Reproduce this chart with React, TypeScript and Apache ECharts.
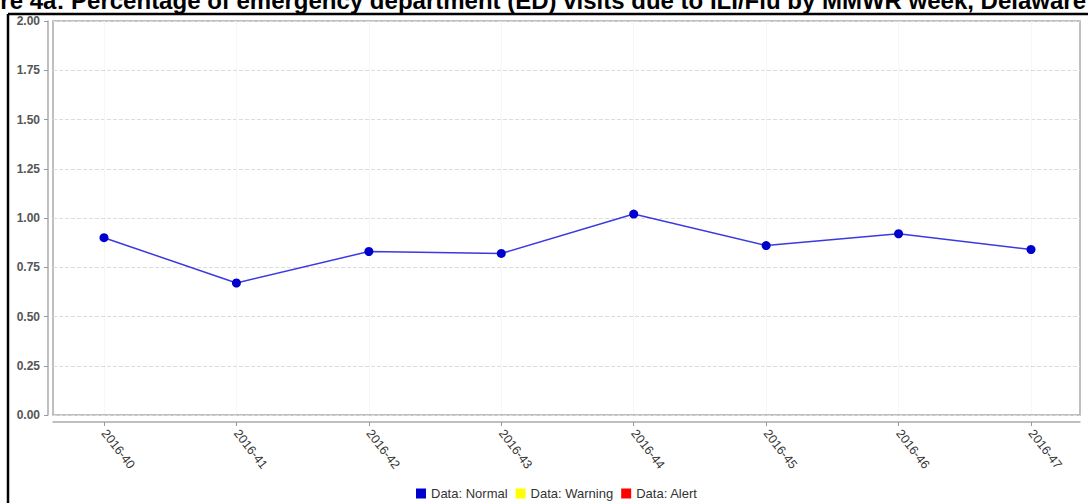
import React, { useEffect, useRef } from "react";
import * as echarts from "echarts";

const TITLE = "Figure 4a: Percentage of emergency department (ED) visits due to ILI/Flu by MMWR week, Delaware";
const weeks = ["2016-40", "2016-41", "2016-42", "2016-43", "2016-44", "2016-45", "2016-46", "2016-47"];
const normalValues = [0.9, 0.67, 0.83, 0.82, 1.02, 0.86, 0.92, 0.84];
const legendNames = ["Data: Normal", "Data: Warning", "Data: Alert"];
const legendColors = ["#0000CC", "#FFFF00", "#FF0000"];

export default function App() {
  const ref = useRef<HTMLDivElement>(null);
  useEffect(() => {
    if (!ref.current) return;
    const chart = echarts.init(ref.current, undefined, { renderer: "svg" });
    const font = "Liberation Sans, Arial, sans-serif";
    chart.setOption({
      animation: false,
      backgroundColor: "#ffffff",
      textStyle: { fontFamily: font },
      legend: {
        data: legendNames.map((n) => ({ name: n, icon: "rect" })),
        left: 411,
        top: 482,
        itemWidth: 10,
        itemHeight: 10,
        itemGap: 8,
        textStyle: { fontSize: 13, color: "#333", fontFamily: font },
      },
      grid: [
        { left: 53, right: 8, top: 21, bottom: 88, show: true, borderColor: "#aaaaaa", borderWidth: 1.5, backgroundColor: "#ffffff" },
        { left: 104, right: 57, top: 21, bottom: 88, show: false },
      ],
      xAxis: [
        {
          gridIndex: 0,
          type: "value",
          min: 0,
          max: 1,
          offset: 7,
          axisLine: { show: true, onZero: false, lineStyle: { color: "#aaaaaa", width: 1.5 } },
          axisTick: { show: false },
          axisLabel: { show: false },
          splitLine: { show: false },
        },
        {
          gridIndex: 1,
          type: "category",
          data: weeks,
          boundaryGap: false,
          offset: 7,
          axisLine: { show: false, onZero: false },
          axisTick: { show: true, length: 4, lineStyle: { color: "#999999" } },
          axisLabel: { rotate: -52, margin: 9, fontSize: 12.5, color: "#333333", fontFamily: font },
          splitLine: { show: true, lineStyle: { color: "#eeeeee", type: "dotted", width: 1 } },
        },
      ],
      yAxis: [
        {
          gridIndex: 0,
          type: "value",
          min: 0,
          max: 2,
          interval: 0.25,
          offset: 5,
          axisLine: { show: true, onZero: false, lineStyle: { color: "#aaaaaa", width: 1.5 } },
          axisTick: { show: true, length: 4, lineStyle: { color: "#999999" } },
          axisLabel: {
            margin: 8,
            fontSize: 12,
            fontWeight: "bold",
            color: "#555555",
            fontFamily: font,
            formatter: (v: number) => v.toFixed(2),
          },
          splitLine: { show: true, lineStyle: { color: "#dddddd", type: "dashed", width: 1 } },
        },
        { gridIndex: 1, type: "value", min: 0, max: 2, show: false },
      ],
      series: [
        {
          name: legendNames[0],
          type: "line",
          xAxisIndex: 1,
          yAxisIndex: 1,
          data: normalValues,
          symbol: "circle",
          symbolSize: 9,
          itemStyle: { color: legendColors[0] },
          lineStyle: { color: "#3a3ae0", width: 1.5 },
        },
        {
          name: legendNames[1],
          type: "line",
          xAxisIndex: 1,
          yAxisIndex: 1,
          data: [],
          itemStyle: { color: legendColors[1] },
        },
        {
          name: legendNames[2],
          type: "line",
          xAxisIndex: 1,
          yAxisIndex: 1,
          data: [],
          itemStyle: { color: legendColors[2] },
        },
      ],
      graphic: [
        {
          type: "text",
          x: 1086,
          y: 12,
          z: 10,
          style: {
            text: TITLE,
            fill: "#000000",
            font: "bold 24px Liberation Sans, Arial, sans-serif",
            textAlign: "right",
            textVerticalAlign: "bottom",
          },
        },
        { type: "line", z: 10, shape: { x1: 8, y1: 14, x2: 1090, y2: 14 }, style: { stroke: "#000", lineWidth: 2.5 } },
        { type: "line", z: 10, shape: { x1: 8, y1: 14, x2: 8, y2: 510 }, style: { stroke: "#000", lineWidth: 2.5 } },
      ],
    });
    return () => chart.dispose();
  }, []);
  return (
    <div
      ref={ref}
      style={{ position: "fixed", left: 0, top: 0, width: 1088, height: 503 }}
    />
  );
}
